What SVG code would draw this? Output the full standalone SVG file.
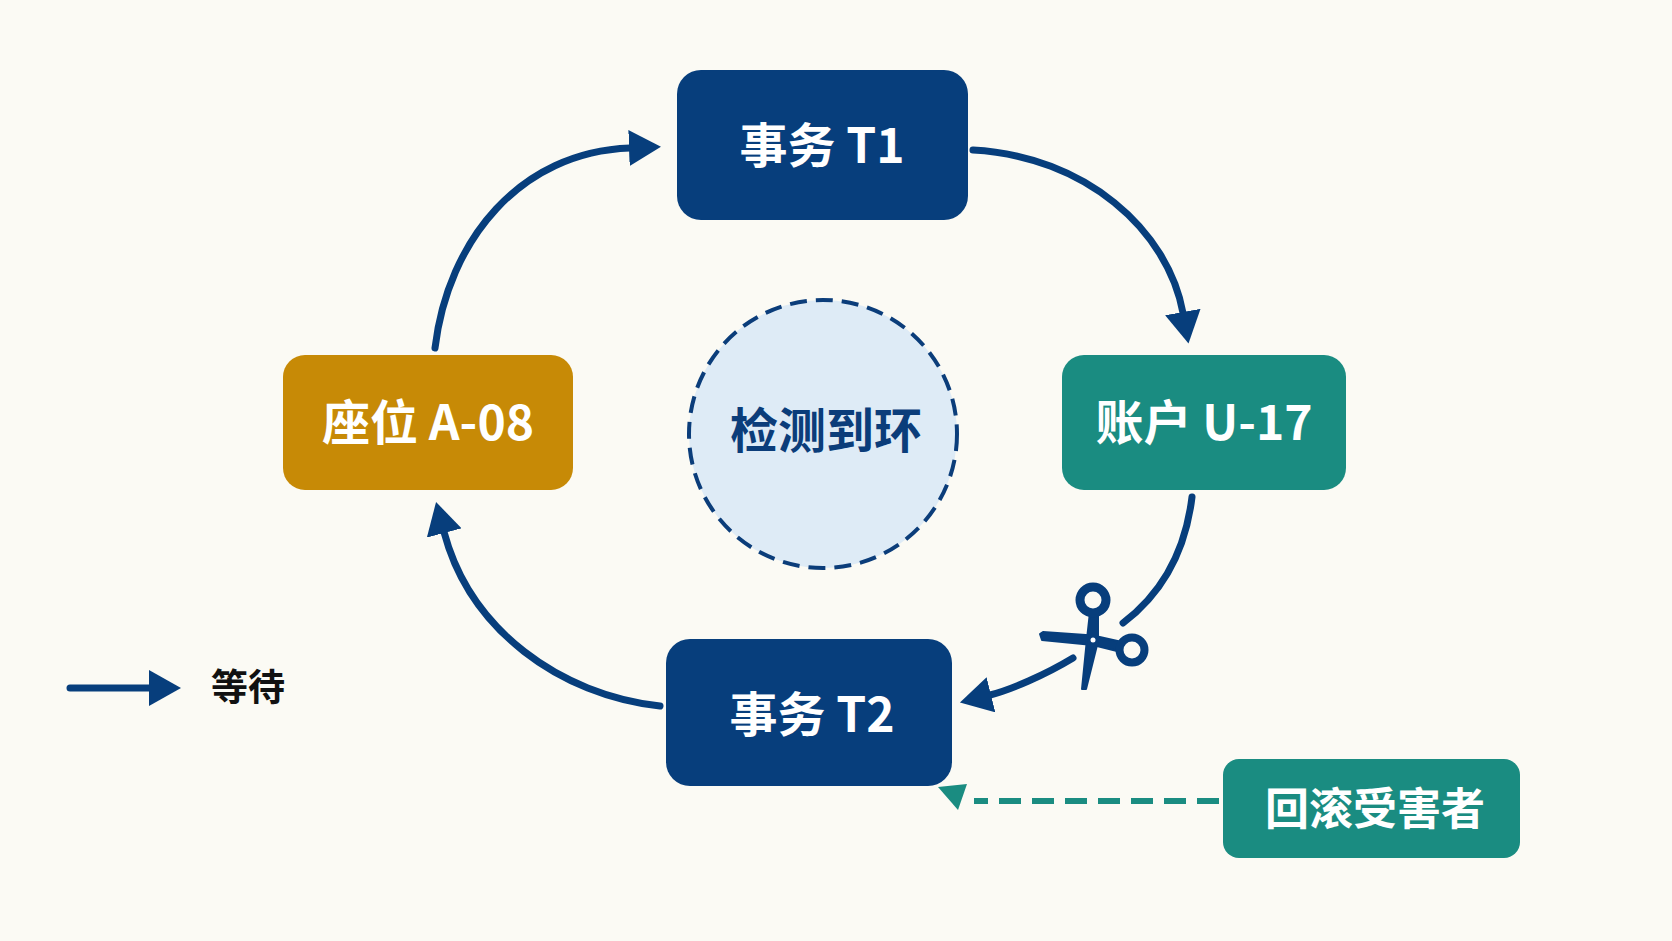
<svg xmlns="http://www.w3.org/2000/svg" width="1672" height="941" viewBox="0 0 1672 941">
  <defs>
    <marker id="arr" viewBox="0 0 32 36" refX="1" refY="18" markerWidth="32" markerHeight="36" markerUnits="userSpaceOnUse" orient="auto">
      <path d="M0,0 L32,18 L0,36 Z" fill="#073e7c"/>
    </marker>
    <style>
      .lbl { font-family: "Noto Sans CJK SC", "Noto Sans", sans-serif; font-weight: 700; text-anchor: middle; }
      .white { fill: #ffffff; }
      .wait { fill: none; stroke: #073e7c; stroke-width: 7; stroke-linecap: round; }
      .navy { fill: #073e7c; }
      .teal { fill: #1a8c81; }
      .gold { fill: #c78a06; }
      .blade { fill: #073e7c; stroke: #073e7c; stroke-width: 2; stroke-linejoin: round; }
    </style>
  </defs>
  <rect x="0" y="0" width="1672" height="941" fill="#fbfaf4"/>

  <g id="connectors">
    <path class="wait" d="M435,348 C448,240 520,152 630,148" marker-end="url(#arr)"/>
    <path class="wait" d="M973,150 C1085,156 1168,230 1183,313" marker-end="url(#arr)"/>
    <path class="wait" d="M1192,497 C1185,555 1160,595 1123,623"/>
    <path class="wait" d="M1073,658 C1045,675 1010,690 990,695" marker-end="url(#arr)"/>
    <path class="wait" d="M660,706 C560,695 470,630 444,532" marker-end="url(#arr)"/>
    <path d="M1219,801 L974,801" fill="none" stroke="#1a8c81" stroke-width="6" stroke-dasharray="22 11"/>
    <polygon points="938,787 967,784 958,810" fill="#1a8c81"/>
  </g>

  <g id="scissors">
    <polygon class="blade" points="1040,634 1043,632 1093,635.5 1122,642 1121,652 1093,645 1042,640"/>
    <polygon class="blade" points="1090,612 1098,613 1098,641 1086,689 1082,689 1087,639"/>
    <circle cx="1093" cy="600" r="13" fill="#fbfaf4" stroke="#073e7c" stroke-width="9"/>
    <circle cx="1132" cy="650" r="12.5" fill="#fbfaf4" stroke="#073e7c" stroke-width="8"/>
    <circle cx="1093" cy="640" r="2.5" fill="#ffffff"/>
  </g>

  <g id="cycle">
    <circle cx="823" cy="434" r="134" fill="#deebf6" stroke="#0b3d7a" stroke-width="4" stroke-dasharray="17 9"/>
    <text class="lbl" x="826" y="448" font-size="48" fill="#0b3d7a">检测到环</text>
  </g>

  <g id="t1">
    <rect class="navy" x="677" y="70" width="291" height="150" rx="24"/>
    <text class="lbl white" x="822" y="163" font-size="48">事务 T1</text>
  </g>

  <g id="u17">
    <rect class="teal" x="1062" y="355" width="284" height="135" rx="22"/>
    <text class="lbl white" x="1204" y="440" font-size="48">账户 U-17</text>
  </g>

  <g id="a08">
    <rect class="gold" x="283" y="355" width="290" height="135" rx="22"/>
    <text class="lbl white" x="428" y="440" font-size="48">座位 A-08</text>
  </g>

  <g id="t2">
    <rect class="navy" x="666" y="639" width="286" height="147" rx="24"/>
    <text class="lbl white" x="812" y="732" font-size="48">事务 T2</text>
  </g>

  <g id="victim">
    <rect class="teal" x="1223" y="759" width="297" height="99" rx="16"/>
    <text class="lbl white" x="1375" y="825" font-size="44">回滚受害者</text>
  </g>

  <g id="legend">
    <path class="wait" d="M70,688 L150,688" marker-end="url(#arr)"/>
    <text class="lbl" x="248" y="701" font-size="37" fill="#111111">等待</text>
  </g>
</svg>
